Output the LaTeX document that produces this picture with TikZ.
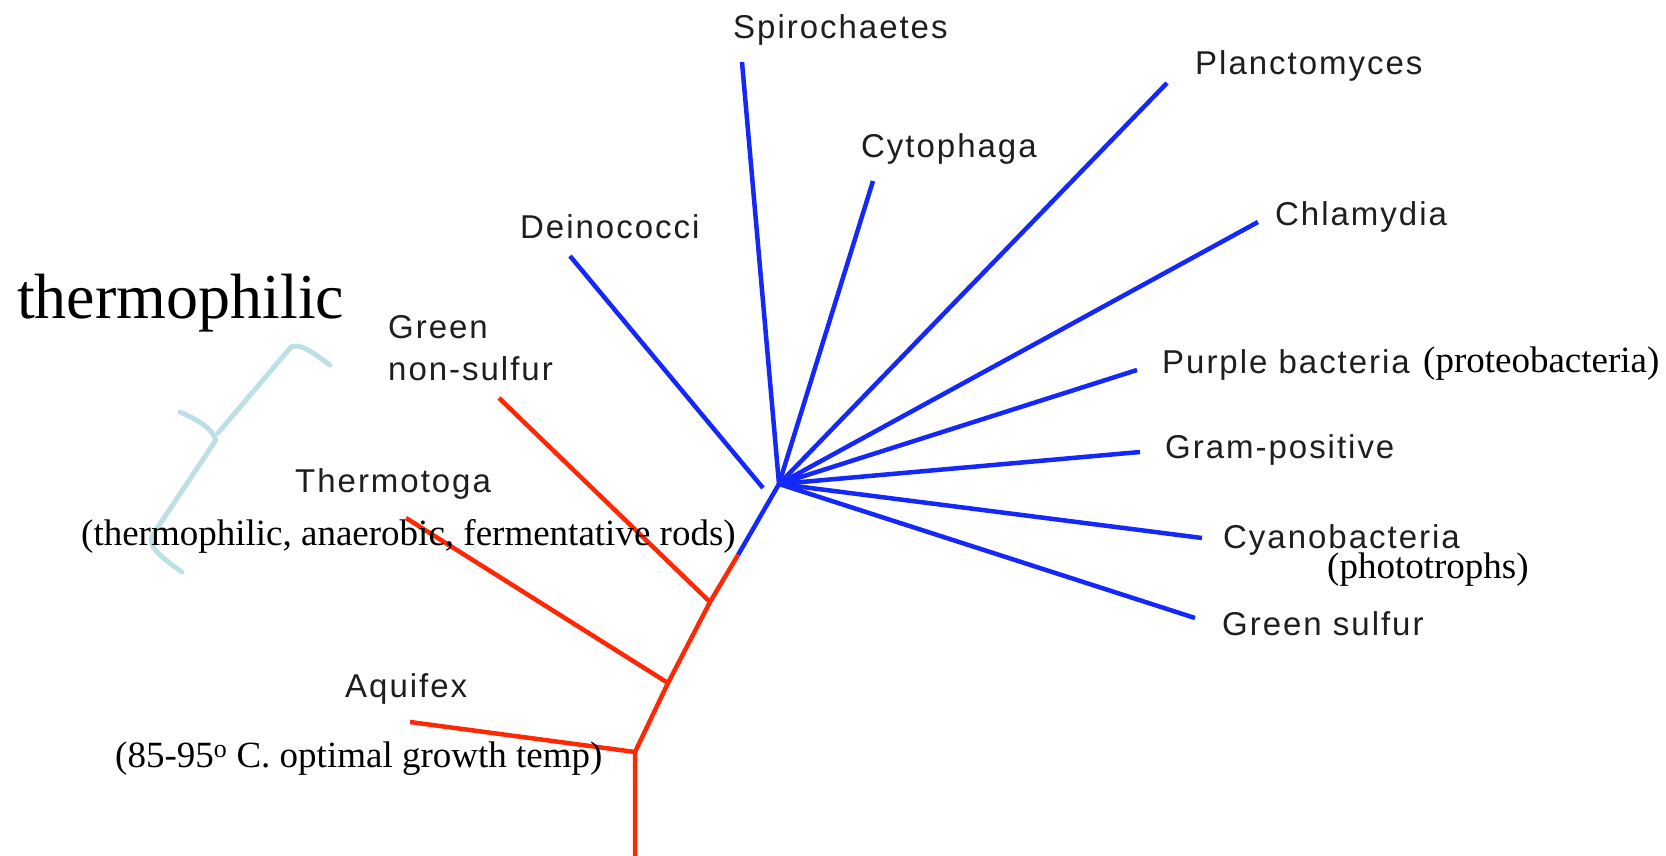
\documentclass[tikz,border=0pt]{standalone}
\usepackage{fontspec}
\setmainfont{Liberation Serif}
\newfontfamily\labfont[LetterSpace=6]{Liberation Sans}
\definecolor{treeblue}{RGB}{20,40,250}
\definecolor{treered}{RGB}{255,40,5}
\definecolor{bracecol}{RGB}{190,224,228}
\definecolor{labgray}{RGB}{30,30,30}
\tikzset{
  bl/.style={draw=treeblue, line width=4.5pt},
  rd/.style={draw=treered, line width=4.5pt},
  brace/.style={draw=bracecol, line width=5pt, line cap=round, line join=round},
  taxon/.style={anchor=base west, inner sep=0pt, text=labgray, font=\labfont\fontsize{33}{42}\selectfont},
  note/.style={anchor=base west, inner sep=0pt, text=black, font=\fontsize{37}{44}\selectfont},
}
\begin{document}
\begin{tikzpicture}[x=1pt, y=-1pt]
\useasboundingbox (0,0) rectangle (1666,856);
% coordinates
\coordinate (H) at (779,484);
\coordinate (T) at (738,555);
\coordinate (J1) at (710,602);
\coordinate (J2) at (668,683);
\coordinate (J3) at (635,752);
\coordinate (root) at (635,856);
\coordinate (eSpiro) at (742,62);
\coordinate (eCyto) at (873,181);
\coordinate (ePlanc) at (1167,83);
\coordinate (eChlam) at (1258,222);
\coordinate (ePurple) at (1137,370);
\coordinate (eGram) at (1140,452);
\coordinate (eCyano) at (1202,538);
\coordinate (eGsulf) at (1195,618);
\coordinate (dTop) at (570,256);
\coordinate (dEnd) at (763,488);
\coordinate (eGns) at (499,398);
\coordinate (eThermo) at (406,518);
\coordinate (eAqui) at (410,722);
% blue branches
\draw[bl] (H) -- (eSpiro);
\draw[bl] (H) -- (eCyto);
\draw[bl] (H) -- (ePlanc);
\draw[bl] (H) -- (eChlam);
\draw[bl] (H) -- (ePurple);
\draw[bl] (H) -- (eGram);
\draw[bl] (H) -- (eCyano);
\draw[bl] (H) -- (eGsulf);
\draw[bl] (dTop) -- (dEnd);
\draw[bl] (H) -- (T);
% red branches
\draw[rd] (T) -- (J1) -- (J2) -- (J3) -- (root);
\draw[rd] (J1) -- (eGns);
\draw[rd] (J2) -- (eThermo);
\draw[rd] (J3) -- (eAqui);
% brace
\draw[brace] (330,365) .. controls (312,352) and (300,343) .. (291,347) -- (218,433);
\draw[brace] (180,412) .. controls (198,420) and (212,428) .. (216,440) -- (152,536) .. controls (147,546) and (162,558) .. (182,572);
% labels
\node[taxon] (lSpiro) at (733,39) {Spirochaetes};
\node[taxon] (lCyto) at (861,158) {Cytophaga};
\node[taxon] (lPlanc) at (1195,75) {Planctomyces};
\node[taxon] (lChlam) at (1275,225) {Chlamydia};
\node[taxon] (lDeino) at (520,238) {Deinococci};
\node[taxon] (lGns) at (388,338) {\begin{tabular}[t]{@{}l@{}}Green\\non-sulfur\end{tabular}};
\node[taxon] (lThermo) at (295,492) {Thermotoga};
\node[taxon] (lAqui) at (345,697) {Aquifex};
\node[taxon] (lPurple) at (1162,373) {Purple bacteria};
\node[taxon] (lGram) at (1165,458) {Gram-positive};
\node[taxon] (lCyano) at (1223,548) {Cyanobacteria};
\node[taxon] (lGsulf) at (1222,635) {Green sulfur};
\node[note] (nProteo) at (1423,372) {(proteobacteria)};
\node[note] (nPhoto) at (1327,578) {(phototrophs)};
\node[note] (nThermo) at (81,545) {(thermophilic, anaerobic, fermentative rods)};
\node[note] (nAqui) at (115,767) {(85-95\textsuperscript{o} C. optimal growth temp)};
\node[anchor=base west, inner sep=0pt, font=\fontsize{64}{70}\selectfont] (thermo) at (17,318) {thermophilic};
\end{tikzpicture}
\end{document}
